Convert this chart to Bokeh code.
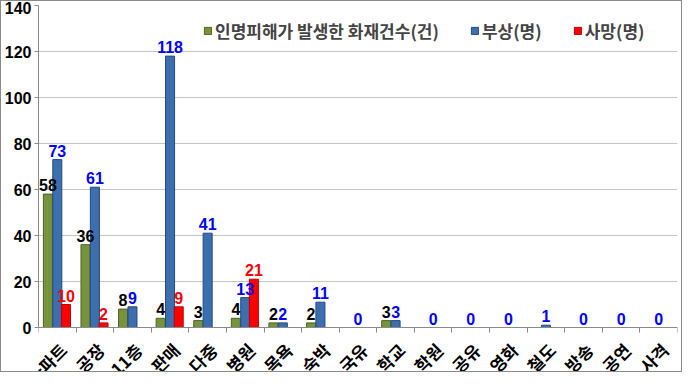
from bokeh.plotting import figure
from bokeh.models import ColumnDataSource, Range1d, FixedTicker, LabelSet
from bokeh.transform import dodge
from bokeh.core.properties import value
from bokeh.embed import file_html
from bokeh.resources import INLINE
from math import pi

categories = ["아파트", "공장", "11층", "판매", "다중", "병원", "목욕", "숙박", "국유",
              "학교", "학원", "공유", "영화", "철도", "방송", "공연", "사격"]
fires = [58, 36, 8, 4, 3, 4, 2, 2, 0, 3, 0, 0, 0, 0, 0, 0, 0]
injured = [73, 61, 9, 118, 41, 13, 2, 11, 0, 3, 0, 0, 0, 1, 0, 0, 0]
deaths = [10, 2, 0, 9, 0, 21, 0, 0, 0, 0, 0, 0, 0, 0, 0, 0, 0]
y_ticks = [0, 20, 40, 60, 80, 100, 120, 140]
series_names = ["인명피해가 발생한 화재건수(건)", "부상(명)", "사망(명)"]

n = len(categories)
pos = [i + 0.5 for i in range(n)]
src = ColumnDataSource(dict(
    x=pos, cat=categories, zero=[0] * n, fires=fires, injured=injured, deaths=deaths,
    fires_lbl=[str(v) if v > 0 else "" for v in fires],
    injured_lbl=[str(v) for v in injured],
    deaths_lbl=[str(v) if v > 0 else "" for v in deaths],
))

# the frame reaches below zero so the rotated category labels have room
p = figure(width=682, height=372, x_range=Range1d(0, n),
           y_range=Range1d(-20, 140), output_backend="svg", toolbar_location=None,
           min_border_left=30, min_border_right=6,
           min_border_top=4, min_border_bottom=0)
p.styles = {"border": "1px solid #8a8a8a"}
p.outline_line_color = None
p.background_fill_color = "white"
p.border_fill_color = "white"

xaxis = p.xaxis[0]
xaxis.fixed_location = 0
xaxis.ticker = FixedTicker(ticks=[], minor_ticks=list(range(n + 1)))
xaxis.major_tick_line_color = None
xaxis.minor_tick_line_color = "#8a8a8a"
xaxis.minor_tick_out = 5
xaxis.minor_tick_in = 0
xaxis.axis_line_color = "#8a8a8a"
xaxis.major_label_text_font_size = "0px"
xaxis.major_label_standoff = 0

cat_labels = LabelSet(x="x", y="zero", text="cat", source=src, angle=pi / 4,
                      text_align="right", text_baseline="middle",
                      x_offset=6, y_offset=-19,
                      text_font=value("Noto Sans CJK KR"), text_font_style="bold",
                      text_font_size="17px", text_color="black")
p.add_layout(cat_labels)

p.yaxis.ticker = FixedTicker(ticks=y_ticks)
p.yaxis.bounds = (0, 140)
p.yaxis.axis_line_color = "#8a8a8a"
p.yaxis.major_tick_line_color = "#8a8a8a"
p.yaxis.major_tick_out = 4
p.yaxis.major_tick_in = 0
p.yaxis.minor_tick_line_color = None
p.yaxis.major_label_text_font = "Liberation Sans"
p.yaxis.major_label_text_font_style = "bold"
p.yaxis.major_label_text_font_size = "16px"
p.yaxis.major_label_text_color = "black"
p.yaxis.major_label_standoff = 3
p.ygrid.grid_line_color = "#c4c4c4"
p.xgrid.grid_line_color = None

w = 0.24
p.vbar(x=dodge("x", -0.25), top="fires", width=w, source=src,
       fill_color="#77933C", line_color="#4F6228", legend_label=series_names[0])
p.vbar(x=dodge("x", 0.0), top="injured", width=w, source=src,
       fill_color="#3C6EB0", line_color="#234A7C", legend_label=series_names[1])
p.vbar(x=dodge("x", 0.23), top="deaths", width=w, source=src,
       fill_color="#FF0000", line_color="#C00000", legend_label=series_names[2])

for off, ycol, tcol, color in [(-0.25, "fires", "fires_lbl", "black"),
                               (0.0, "injured", "injured_lbl", "#0000FF"),
                               (0.23, "deaths", "deaths_lbl", "#FF0000")]:
    p.text(x=dodge("x", off), y=ycol, text=tcol, source=src,
           text_align="center", text_baseline="alphabetic", y_offset=-9,
           text_font=value("Liberation Sans"), text_font_style="bold",
           text_font_size="16px", text_color=color)

lg = p.legend[0]
lg.orientation = "horizontal"
lg.location = (165, 330)
lg.background_fill_alpha = 0
lg.border_line_color = None
lg.padding = 0
lg.margin = 0
lg.spacing = 31
lg.glyph_width = 9
lg.glyph_height = 9
lg.label_standoff = 3
lg.label_text_font = "Noto Sans CJK KR"
lg.label_text_font_style = "bold"
lg.label_text_font_size = "17px"
lg.label_height = 18

open("out.html", "w").write(file_html(p, INLINE))
